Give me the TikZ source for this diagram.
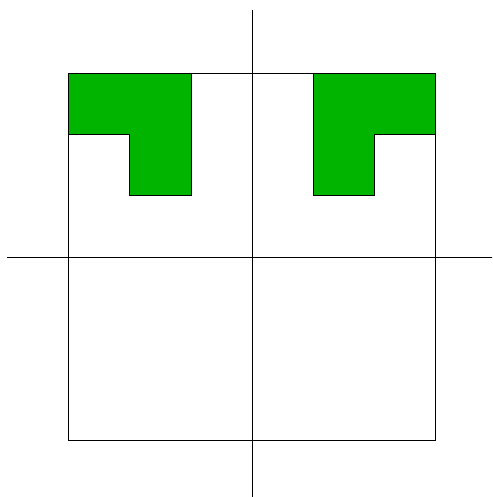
\documentclass[tikz,border=0pt]{standalone}
\definecolor{lgreen}{RGB}{0,180,0}
\begin{document}
\begin{tikzpicture}
      \useasboundingbox (-4.12,-3.92) rectangle (3.92,4.2);
      \clip (-4.12,-3.92) rectangle (3.92,4.2);
      % green pieces
      \draw[fill=lgreen] (-3,3) -- (-1,3) -- (-1,1) -- (-2,1) -- (-2,2) -- (-3,2) -- cycle;
      \draw[fill=lgreen] (3,3) -- (1,3) -- (1,1) -- (2,1) -- (2,2) -- (3,2) -- cycle;

      % square
      \draw (-3,-3) rectangle (3,3);

      % axes
      \draw (-4,0) -- (4,0);
      \draw (0,-4) -- (0,4.04);
    \end{tikzpicture}
\end{document}
